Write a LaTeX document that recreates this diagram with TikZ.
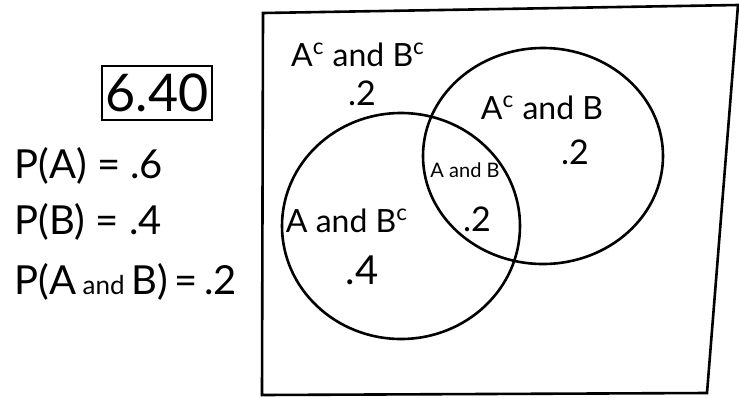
\documentclass[tikz,border=0pt]{standalone}
\usepackage{fontspec}
\setmainfont{Lato}
\usetikzlibrary{positioning}

\begin{document}
\begin{tikzpicture}[x=0.5pt, y=-0.5pt, line width=1.3pt,
    region/.style={font=\fontsize{16}{18}\selectfont, inner sep=0pt},
    prob/.style={font=\fontsize{17}{19}\selectfont, inner sep=0pt},
    given/.style={font=\fontsize{20}{22}\selectfont, inner sep=0pt, anchor=west}]
    \path[fill=white, use as bounding box] (0,0) rectangle (739,397);

    % problem number and what is given
    \node[draw, font=\fontsize{26}{28}\selectfont, minimum width=55pt, minimum height=27pt, inner sep=0pt] (num) at (157,93) {6.40};
    \node[given] (pa) at (13,166) {P(A) = .6};
    \node[given] (pb) at (13,222) {P(B) = .4};
    \node[given] (pab) at (13,282) {P(A\,{\fontsize{13}{15}\selectfont and}\,B)\,=\,.2};

    % sample space and the events A and B
    \draw (263,13) -- (738,5) -- (707,393) -- (262,395) -- cycle;
    \draw (401,226) ellipse [x radius=119, y radius=113];
    \draw (543,156) ellipse [x radius=120, y radius=108];

    % the four regions
    \node[region] (ncnb) at (358,55) {A\textsuperscript{c} and B\textsuperscript{c}};
    \node[prob] (vncnb) at (362,93) {.2};
    \node[region] (ncb) at (542,108) {A\textsuperscript{c} and B};
    \node[prob] (vncb) at (575,152) {.2};
    \node[region, font=\fontsize{10}{12}\selectfont] (ab) at (465,170) {A and B};
    \node[prob] (vab) at (477,219) {.2};
    \node[region] (anb) at (347,221) {A and B\textsuperscript{c}};
    \node[prob, font=\fontsize{20}{22}\selectfont] (vanb) at (362,270) {.4};
\end{tikzpicture}
\end{document}
